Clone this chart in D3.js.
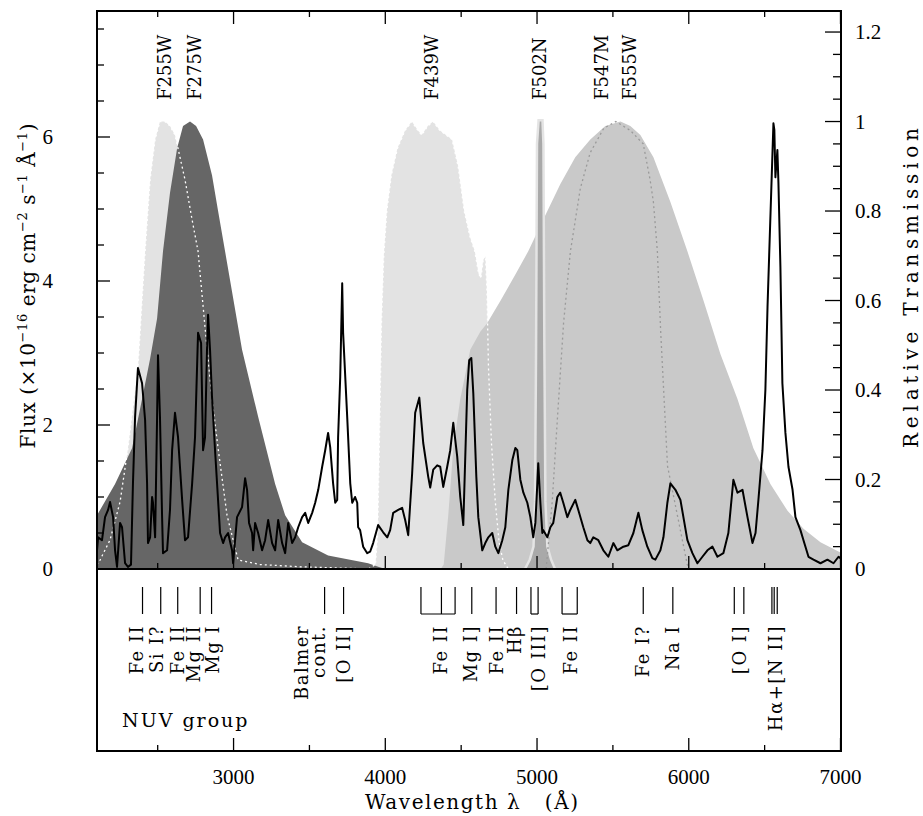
<!DOCTYPE html>
<html>
<head>
<meta charset="utf-8">
<script src="https://cdn.jsdelivr.net/npm/d3@7"></script>
<style>
  body { margin: 0; background: #fff; }
  text { fill: #000; white-space: pre; }
</style>
</head>
<body>
<div id="chart"></div>
<script>
// observed spectrum: [wavelength (A), flux (1e-16 erg cm-2 s-1 A-1)]
var spectrum = [
  [2100,0.26],[2107,0.44],[2133,0.40],[2153,0.72],[2173,0.82],[2186,0.93],[2206,0.72],[2219,0.26],
  [2232,0.03],[2252,0.64],[2265,0.58],[2285,0.08],[2304,0.03],[2324,0.06],[2337,1.19],[2351,2.11],
  [2364,2.58],[2370,2.79],[2397,2.58],[2417,2.07],[2430,1.19],[2436,0.36],[2450,0.44],[2463,1.00],
  [2469,0.92],[2483,0.44],[2496,2.11],[2502,2.97],[2515,2.11],[2529,0.72],[2535,0.22],[2562,0.26],
  [2581,0.82],[2595,1.65],[2614,2.17],[2634,1.83],[2661,0.96],[2680,0.40],[2700,0.44],[2727,1.19],
  [2746,1.83],[2766,3.28],[2786,3.14],[2799,1.65],[2812,1.83],[2825,3.04],[2832,3.53],[2845,3.04],
  [2858,2.39],[2878,1.65],[2911,0.50],[2931,0.36],[2944,0.44],[2964,0.50],[2990,0.26],[2997,0.08],
  [3010,0.40],[3023,0.72],[3056,0.86],[3076,1.26],[3089,1.10],[3102,0.64],[3122,0.50],[3129,0.26],
  [3142,0.64],[3162,0.50],[3188,0.26],[3208,0.40],[3228,0.68],[3254,0.36],[3274,0.26],[3294,0.68],
  [3320,0.36],[3340,0.22],[3360,0.64],[3386,0.36],[3406,0.44],[3426,0.58],[3452,0.72],[3472,0.78],
  [3492,0.64],[3518,0.78],[3538,0.92],[3558,1.10],[3584,1.42],[3604,1.65],[3623,1.89],[3637,1.69],
  [3656,1.19],[3670,0.92],[3683,0.96],[3689,1.83],[3703,2.67],[3716,3.97],[3722,3.28],[3749,2.11],
  [3769,1.19],[3782,0.92],[3801,1.00],[3815,0.92],[3821,0.58],[3834,0.54],[3854,0.31],[3881,0.22],
  [3900,0.24],[3920,0.36],[3953,0.61],[3986,0.51],[4013,0.44],[4032,0.54],[4052,0.78],[4085,0.82],
  [4111,0.85],[4131,0.68],[4151,0.47],[4177,1.33],[4197,2.17],[4224,2.38],[4250,1.75],[4283,1.28],
  [4296,1.13],[4316,1.38],[4342,1.44],[4362,1.42],[4382,1.14],[4408,1.42],[4428,1.65],[4448,2.03],
  [4474,1.56],[4494,1.00],[4514,0.61],[4540,2.49],[4553,2.90],[4567,2.93],[4580,2.44],[4600,1.28],
  [4613,0.72],[4639,0.26],[4659,0.36],[4679,0.44],[4705,0.50],[4725,0.31],[4745,0.22],[4771,0.40],
  [4791,0.58],[4811,1.10],[4837,1.51],[4857,1.68],[4870,1.65],[4890,1.24],[4910,1.06],[4936,0.92],
  [4956,0.72],[4975,0.44],[4989,0.64],[5002,1.19],[5008,1.47],[5022,0.92],[5035,0.50],[5041,0.54],
  [5068,0.44],[5088,0.58],[5107,0.64],[5134,1.00],[5153,1.06],[5173,0.92],[5200,0.72],[5219,0.82],
  [5252,0.96],[5272,0.82],[5305,0.58],[5332,0.40],[5351,0.36],[5371,0.44],[5404,0.40],[5437,0.26],
  [5470,0.17],[5503,0.36],[5529,0.26],[5569,0.31],[5602,0.33],[5635,0.50],[5668,0.78],[5694,0.54],
  [5727,0.31],[5760,0.15],[5780,0.13],[5813,0.26],[5833,0.44],[5859,0.92],[5879,1.19],[5912,1.10],
  [5945,0.96],[5991,0.40],[6024,0.22],[6057,0.08],[6090,0.17],[6123,0.26],[6156,0.31],[6189,0.17],
  [6228,0.22],[6261,0.50],[6294,1.24],[6321,1.06],[6354,1.10],[6387,0.72],[6420,0.36],[6440,0.50],
  [6459,0.96],[6486,1.65],[6505,2.49],[6519,3.64],[6538,4.89],[6558,6.19],[6564,6.10],[6571,5.44],
  [6584,5.82],[6591,5.36],[6604,4.19],[6617,2.58],[6637,1.89],[6657,1.42],[6684,1.10],[6703,0.72],
  [6736,0.54],[6756,0.40],[6789,0.17],[6822,0.13],[6868,0.08],[6914,0.13],[6954,0.08],[6987,0.17],
  [7000,0.15]
];

// filter transmission curves: [wavelength (A), relative transmission]
var f255w = [
  [2080,0],[2120,0.02],[2186,0.065],[2252,0.15],[2304,0.27],[2337,0.36],[2370,0.45],[2397,0.60],
  [2417,0.71],[2450,0.87],[2483,0.96],[2515,1.0],[2548,1.0],[2581,0.99],[2614,0.97],[2680,0.87],
  [2727,0.78],[2766,0.71],[2812,0.54],[2858,0.38],[2898,0.27],[2957,0.12],[3030,0.02],[3175,0.01],
  [3440,0.005],[3900,0]
];
var f275w = [
  [2080,0.11],[2100,0.12],[2219,0.19],[2331,0.27],[2397,0.38],[2450,0.47],[2496,0.56],[2535,0.71],
  [2581,0.84],[2628,0.94],[2667,0.99],[2713,1.0],[2753,0.99],[2799,0.96],[2858,0.88],[2898,0.80],
  [2944,0.71],[3056,0.49],[3162,0.34],[3274,0.19],[3340,0.12],[3452,0.06],[3623,0.03],[3887,0.013],
  [3953,0.005],[4000,0]
];
var f439w = [
  [3890,0],[3935,0.01],[3950,0.08],[3962,0.3],[3975,0.55],[3990,0.7],[4010,0.8],[4040,0.88],
  [4080,0.94],[4130,0.98],[4175,1.0],[4215,0.98],[4240,0.97],[4280,0.99],[4315,1.0],[4360,0.98],
  [4440,0.96],[4480,0.90],[4520,0.80],[4560,0.74],[4590,0.71],[4615,0.66],[4630,0.65],[4645,0.69],
  [4660,0.70],[4670,0.62],[4680,0.45],[4700,0.28],[4725,0.15],[4750,0.06],[4775,0.02],[4810,0]
];
var f502n = [
  [4930,0],[4960,0.02],[4985,0.05],[4995,0.15],[5002,0.5],[5008,0.95],[5018,1.0],[5028,1.0],
  [5034,0.95],[5040,0.5],[5047,0.15],[5060,0.05],[5085,0.02],[5110,0]
];
var f547m = [
  [5060,0],[5100,0.15],[5135,0.34],[5175,0.55],[5220,0.71],[5285,0.85],[5350,0.93],[5440,0.985],
  [5520,1.0],[5615,0.98],[5700,0.95],[5745,0.87],[5767,0.82],[5793,0.71],[5815,0.53],[5860,0.23],
  [5925,0.12],[5990,0.01],[6010,0]
];
var f555w = [
  [4365,0],[4385,0.01],[4415,0.12],[4448,0.27],[4494,0.38],[4560,0.49],[4626,0.53],[4672,0.55],
  [4760,0.60],[4860,0.66],[4942,0.71],[5054,0.79],[5153,0.86],[5252,0.92],[5351,0.96],[5450,0.99],
  [5550,1.0],[5615,0.99],[5681,0.97],[5767,0.92],[5879,0.82],[5991,0.71],[6097,0.60],[6209,0.48],
  [6321,0.38],[6426,0.27],[6538,0.19],[6651,0.13],[6756,0.09],[6868,0.06],[6980,0.04],[7010,0.035]
];

// filter names and where their labels sit (A)
var filterNames = ["F255W", "F275W", "F439W", "F502N", "F547M", "F555W"];
var filterLabelAt = [2548, 2746, 4303, 5015, 5424, 5608];

// line identifications: tick wavelengths, label lines, label centres (A)
var lineIds = [
  {ticks: [2400], label: ["Fe II"], at: [2364]},
  {ticks: [2520], label: ["Si I?"], at: [2492]},
  {ticks: [2632], label: ["Fe II"], at: [2632]},
  {ticks: [2780], label: ["Mg II"], at: [2735]},
  {ticks: [2855], label: ["Mg I"], at: [2865]},
  {ticks: [3600], label: ["Balmer", "cont."], at: [3449, 3564]},
  {ticks: [3725], label: ["[O II]"], at: [3729]},
  {ticks: [4235, 4370, 4460], bar: true, label: ["Fe II"], at: [4362]},
  {ticks: [4570], label: ["Mg I]"], at: [4560]},
  {ticks: [4730], label: ["Fe II"], at: [4731]},
  {ticks: [4865], label: ["H\u03b2"], at: [4850]},
  {ticks: [4960, 5007], bar: true, label: ["[O III]"], at: [5008]},
  {ticks: [5165, 5265], bar: true, label: ["Fe II"], at: [5219]},
  {ticks: [5700], label: ["Fe I?"], at: [5694]},
  {ticks: [5895], label: ["Na I"], at: [5892]},
  {ticks: [6300, 6363], label: ["[O I]"], at: [6334]},
  {ticks: [6548, 6563, 6583], label: ["H\u03b1+[N II]"], at: [6571]}
];

var fluxMajor = [0, 2, 4, 6];
var transMajor = [0, 0.2, 0.4, 0.6, 0.8, 1, 1.2];
var waveMajor = [3000, 4000, 5000, 6000, 7000];

var W = 923, H = 816;
var mLeft = 97, mRight = 841, mTop = 11, mZero = 569, mBottom = 751;
var serif = "'DejaVu Serif', serif",
    numFont = "'Liberation Serif', serif";

var x  = d3.scaleLinear().domain([2100, 7000]).range([mLeft, mRight - 0.5]);
var yF = d3.scaleLinear().domain([0, 7.75]).range([mZero, mTop]);
var yT = d3.scaleLinear().domain([0, 1.247]).range([mZero, mTop]);

var svg = d3.select("#chart").append("svg")
    .attr("width", W)
    .attr("height", H);

svg.append("clipPath").attr("id", "plotclip")
  .append("rect")
    .attr("x", mLeft).attr("y", mTop)
    .attr("width", mRight - mLeft).attr("height", mZero - mTop);

var plot = svg.append("g").attr("clip-path", "url(#plotclip)");

var areaT = d3.area()
    .x(function(d) { return x(d[0]); })
    .y0(yT(0))
    .y1(function(d) { return yT(d[1]); });
var lineT = d3.line()
    .x(function(d) { return x(d[0]); })
    .y(function(d) { return yT(d[1]); });

/* filter fills */
plot.append("path").attr("d", areaT(f439w)).style("fill", "#e3e3e3");
plot.append("path").attr("d", areaT(f255w)).style("fill", "#e3e3e3");
plot.append("path").attr("d", areaT(f275w)).style("fill", "#666666");
plot.append("path").attr("d", areaT(f555w)).style("fill", "#c9c9c9");
plot.append("path").attr("d", lineT(f502n))
    .style("fill", "none").style("stroke", "#e4e4e4").style("stroke-width", 5)
    .style("stroke-linejoin", "miter");
plot.append("path").attr("d", areaT(f502n)).style("fill", "#a9a9a9");

/* dotted outlines */
plot.append("path").attr("d", lineT(f255w))
    .style("fill", "none").style("stroke", "#fff")
    .style("stroke-width", 1.3).style("stroke-dasharray", "2,3");
plot.append("path").attr("d", lineT(f439w))
    .style("fill", "none").style("stroke", "#fff")
    .style("stroke-width", 1.3).style("stroke-dasharray", "2,3");
plot.append("path").attr("d", lineT(f547m))
    .style("fill", "none").style("stroke", "#9a9a9a")
    .style("stroke-width", 1.3).style("stroke-dasharray", "2,3");

/* spectrum */
plot.append("path")
    .attr("d", d3.line()
      .x(function(d) { return x(d[0]); })
      .y(function(d) { return yF(d[1]); })(spectrum))
    .style("fill", "none")
    .style("stroke", "#000")
    .style("stroke-width", 2)
    .style("stroke-linejoin", "round");

/* frames */
var frame = svg.append("g").style("stroke", "#000").style("stroke-width", 2).style("fill", "none");
frame.append("rect")
    .attr("x", mLeft).attr("y", mTop)
    .attr("width", mRight - mLeft).attr("height", mZero - mTop);
frame.append("path")
    .attr("d", "M" + mLeft + "," + mZero + "V" + mBottom + "H" + mRight + "V" + mZero);

/* ticks */
var ticks = svg.append("g").style("stroke", "#000").style("stroke-width", 1.3);
var waveTicks = d3.range(2500, 7001, 500);
[mTop, mZero, mBottom].forEach(function(yy, k) {
  var dir = k === 0 ? 1 : -1;
  ticks.selectAll(null)
    .data(waveTicks)
    .enter().append("line")
      .attr("x1", x).attr("x2", x)
      .attr("y1", yy)
      .attr("y2", function(d) { return yy + dir * (d % 1000 === 0 ? 13 : 6); });
});

ticks.selectAll(null)
  .data(d3.range(0, 7.6, 0.5))
  .enter().append("line")
    .attr("x1", mLeft)
    .attr("x2", function(d) { return mLeft + (d % 2 === 0 ? 13 : 7); })
    .attr("y1", yF).attr("y2", yF);

ticks.selectAll(null)
  .data(d3.range(0, 25).map(function(i) { return i * 0.05; }))
  .enter().append("line")
    .attr("x1", mRight)
    .attr("x2", function(d, i) { return mRight - (i % 4 === 0 ? 16 : 8); })
    .attr("y1", yT).attr("y2", yT);

/* tick labels */
svg.selectAll(".ylabel")
  .data(fluxMajor)
  .enter().append("text")
    .attr("class", "ylabel")
    .attr("x", 53).attr("y", yF)
    .attr("dy", "0.35em")
    .attr("text-anchor", "end")
    .style("font", "21px " + numFont)
    .text(function(d) { return d; });

svg.selectAll(".tlabel")
  .data(transMajor)
  .enter().append("text")
    .attr("class", "tlabel")
    .attr("x", 855).attr("y", yT)
    .attr("dy", "0.35em")
    .style("font", "21px " + numFont)
    .text(function(d) { return String(Math.round(d * 10) / 10); });

svg.selectAll(".xlabel")
  .data(waveMajor)
  .enter().append("text")
    .attr("class", "xlabel")
    .attr("x", x).attr("y", 784)
    .attr("text-anchor", "middle")
    .style("font", "21px " + numFont)
    .text(function(d) { return d; });

/* axis titles */
svg.append("text")
    .attr("x", 365).attr("y", 809)
    .attr("textLength", 213).attr("lengthAdjust", "spacing")
    .style("font", "20px " + serif)
    .text("Wavelength \u03bb   (\u00c5)");

var yt = svg.append("text")
    .attr("transform", "translate(35,286) rotate(-90)")
    .attr("text-anchor", "middle")
    .attr("textLength", 325).attr("lengthAdjust", "spacing")
    .style("font", "20px " + serif);
var parts = [["Flux (\u00d710", 0], ["\u221216", 1], [" erg cm", 0], ["\u22122", 1],
             [" s", 0], ["\u22121", 1], [" \u00c5", 0], ["\u22121", 1], [")", 0]];
parts.forEach(function(p, i) {
  yt.append("tspan")
    .attr("dy", p[1] ? -8 : (i === 0 ? 0 : 8))
    .style("font-size", p[1] ? "13px" : null)
    .text(p[0]);
});

svg.append("text")
    .attr("transform", "translate(918,288) rotate(-90)")
    .attr("text-anchor", "middle")
    .attr("textLength", 320).attr("lengthAdjust", "spacing")
    .style("font", "20px " + serif)
    .text("Relative Transmission");

/* filter labels */
svg.selectAll(".flabel")
  .data(filterNames)
  .enter().append("text")
    .attr("class", "flabel")
    .attr("transform", function(d, i) {
      return "translate(" + x(filterLabelAt[i]) + ",100) rotate(-90)";
    })
    .attr("dy", "0.35em")
    .style("font", "18px " + serif)
    .text(function(d) { return d; });

/* line identifications */
var ids = svg.append("g");
lineIds.forEach(function(id) {
  id.ticks.forEach(function(w) {
    ids.append("line")
      .attr("x1", x(w)).attr("x2", x(w))
      .attr("y1", 587).attr("y2", 614)
      .style("stroke", "#000").style("stroke-width", 1.2);
  });
  if (id.bar) {
    ids.append("line")
      .attr("x1", x(id.ticks[0])).attr("x2", x(id.ticks[id.ticks.length - 1]))
      .attr("y1", 614).attr("y2", 614)
      .style("stroke", "#000").style("stroke-width", 1.2);
  }
  id.label.forEach(function(t, i) {
    ids.append("text")
      .attr("transform", "translate(" + x(id.at[i]) + ",625) rotate(-90)")
      .attr("dy", "0.35em")
      .attr("text-anchor", "end")
      .style("font", "18px " + serif)
      .style("letter-spacing", "1.5px")
      .text(t);
  });
});

svg.append("text")
    .attr("x", x(2265)).attr("y", 727)
    .style("font", "19px " + serif)
    .style("letter-spacing", "2px")
    .text("NUV group");
</script>
</body>
</html>
